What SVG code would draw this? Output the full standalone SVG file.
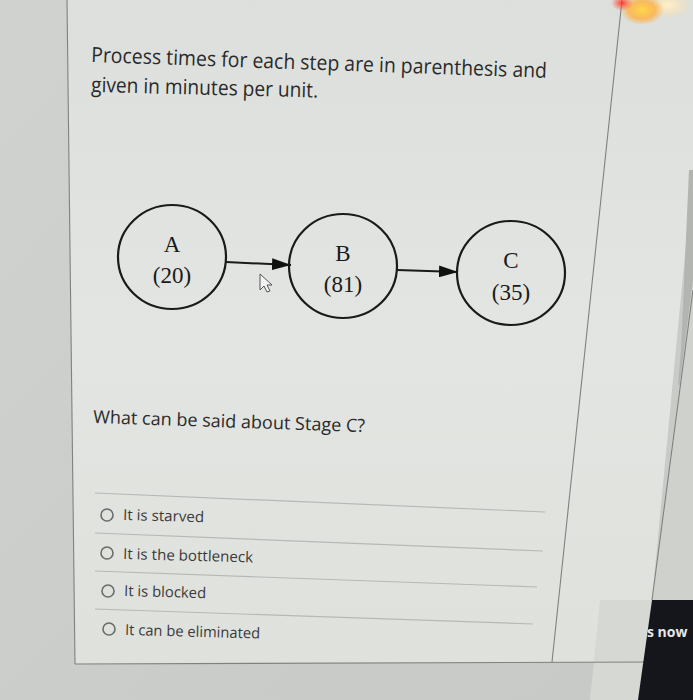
<svg xmlns="http://www.w3.org/2000/svg" width="693" height="700" viewBox="0 0 693 700">
<defs>
<style>
.node{fill:none;stroke:#1a1a1a;stroke-width:2.2}
.nl{font-family:"Liberation Serif",serif;font-size:23px;fill:#1a1a1a;text-anchor:middle}
.ui{font-family:"Open Sans","Noto Sans",sans-serif;fill:#2a2a2a}
.opt{font-family:"Open Sans","Noto Sans",sans-serif;fill:#3a3a3a;font-size:15px}
.sep{stroke:#b6b9b5;stroke-width:1.2}
.radio{fill:none;stroke:#6a6d6a;stroke-width:1.6}
.edge{stroke:#1a1a1a;stroke-width:2;fill:none}
.frame{stroke:#7f827f;stroke-width:1.1;fill:none}
</style>
<marker id="ah" viewBox="0 0 19 12" refX="19" refY="6" markerWidth="19" markerHeight="12" markerUnits="userSpaceOnUse" orient="auto">
<path d="M0,0 L19,6 L0,12 z" fill="#111"/>
</marker>
<radialGradient id="gy" cx="0.5" cy="0.5" r="0.5">
<stop offset="0" stop-color="#ffd84a"/>
<stop offset="0.6" stop-color="#ffb040" stop-opacity="0.8"/>
<stop offset="1" stop-color="#ffb040" stop-opacity="0"/>
</radialGradient>
<radialGradient id="gr" cx="0.5" cy="0.5" r="0.5">
<stop offset="0" stop-color="#ff3a2a"/>
<stop offset="1" stop-color="#ff5a3a" stop-opacity="0"/>
</radialGradient>
<radialGradient id="gw" cx="0.5" cy="0.5" r="0.5">
<stop offset="0" stop-color="#fff0c8"/>
<stop offset="1" stop-color="#ffe0a0" stop-opacity="0"/>
</radialGradient>
<linearGradient id="bg" x1="0" y1="0" x2="1" y2="1">
<stop offset="0" stop-color="#cfd2cf"/>
<stop offset="1" stop-color="#c6c9c5"/>
</linearGradient>
<linearGradient id="card" x1="0" y1="0" x2="0" y2="1">
<stop offset="0" stop-color="#dcdfdc"/>
<stop offset="0.5" stop-color="#e2e5e1"/>
<stop offset="1" stop-color="#dfe1dd"/>
</linearGradient>
</defs>
<rect width="693" height="700" fill="url(#bg)"/>
<polygon points="67,0 693,0 693,170 652,600 656,662 75,664" fill="url(#card)"/>
<polygon points="689,170 693,170 693,385 678,385 681,350" fill="#b3b5b1"/>
<polygon points="684,350 693,280 693,600 652,600" fill="#cfd1cd"/>
<polygon points="600,600 652,600 638,700 590,700" fill="#d6d8d4"/>
<line class="frame" x1="67" y1="0" x2="75" y2="664"/>
<line class="frame" x1="75" y1="664" x2="652" y2="662"/>
<line class="frame" x1="622" y1="0" x2="552" y2="662"/>
<line class="frame" x1="693" y1="290" x2="652" y2="600"/>
<polygon points="652,600 693,600 693,700 638,700" fill="#15161c"/>
<text x="647" y="637" font-family="Open Sans,sans-serif" font-size="14" font-weight="bold" fill="#e6e6e6">s now</text>
<ellipse cx="668" cy="5" rx="24" ry="14" fill="url(#gw)"/>
<ellipse cx="642" cy="10" rx="22" ry="15" fill="url(#gy)"/>
<ellipse cx="622" cy="3" rx="11" ry="8" fill="url(#gr)"/>
<text class="ui" x="91" y="62" font-size="21" textLength="456" lengthAdjust="spacingAndGlyphs" transform="rotate(2 91 62)">Process times for each step are in parenthesis and</text>
<text class="ui" x="91" y="92" font-size="21" textLength="227" lengthAdjust="spacingAndGlyphs" transform="rotate(1.4 91 92)">given in minutes per unit.</text>
<g id="connectors">
<line class="edge" x1="226" y1="262" x2="291" y2="265" marker-end="url(#ah)"/>
<line class="edge" x1="397" y1="270" x2="458" y2="272" marker-end="url(#ah)"/>
</g>
<g id="nodeA">
<ellipse class="node" cx="172" cy="257" rx="54" ry="52"/>
<text class="nl" x="172" y="252">A</text>
<text class="nl" x="172" y="283">(20)</text>
</g>
<g id="nodeB">
<ellipse class="node" cx="343" cy="266" rx="54" ry="52"/>
<text class="nl" x="343" y="261">B</text>
<text class="nl" x="343" y="292">(81)</text>
</g>
<g id="nodeC">
<ellipse class="node" cx="511" cy="273" rx="54" ry="52"/>
<text class="nl" x="511" y="268">C</text>
<text class="nl" x="511" y="300">(35)</text>
</g>
<path d="M260,274 L260,290 L264,286 L267,292 L270,291 L267,285 L272,285 Z" fill="#f4f4f4" stroke="#444" stroke-width="0.9"/>
<text class="ui" x="93" y="423" font-size="18" textLength="272" lengthAdjust="spacingAndGlyphs" transform="rotate(1.9 93 423)">What can be said about Stage C?</text>
<g id="options">
<line class="sep" x1="95" y1="493" x2="545" y2="512"/>
<line class="sep" x1="95" y1="533" x2="543" y2="551"/>
<line class="sep" x1="95" y1="571" x2="537" y2="587"/>
<line class="sep" x1="95" y1="609" x2="533" y2="624"/>
<circle class="radio" cx="107" cy="515" r="6"/>
<circle class="radio" cx="107" cy="553" r="6"/>
<circle class="radio" cx="108" cy="591" r="6"/>
<circle class="radio" cx="109" cy="629" r="6"/>
<text class="opt" x="123" y="520" textLength="81" lengthAdjust="spacingAndGlyphs" transform="rotate(1.5 123 520)">It is starved</text>
<text class="opt" x="123" y="559" textLength="130" lengthAdjust="spacingAndGlyphs" transform="rotate(1.5 123 559)">It is the bottleneck</text>
<text class="opt" x="124" y="596" textLength="82" lengthAdjust="spacingAndGlyphs" transform="rotate(1.5 124 596)">It is blocked</text>
<text class="opt" x="125" y="635" textLength="135" lengthAdjust="spacingAndGlyphs" transform="rotate(1.5 125 635)">It can be eliminated</text>
</g>
</svg>
